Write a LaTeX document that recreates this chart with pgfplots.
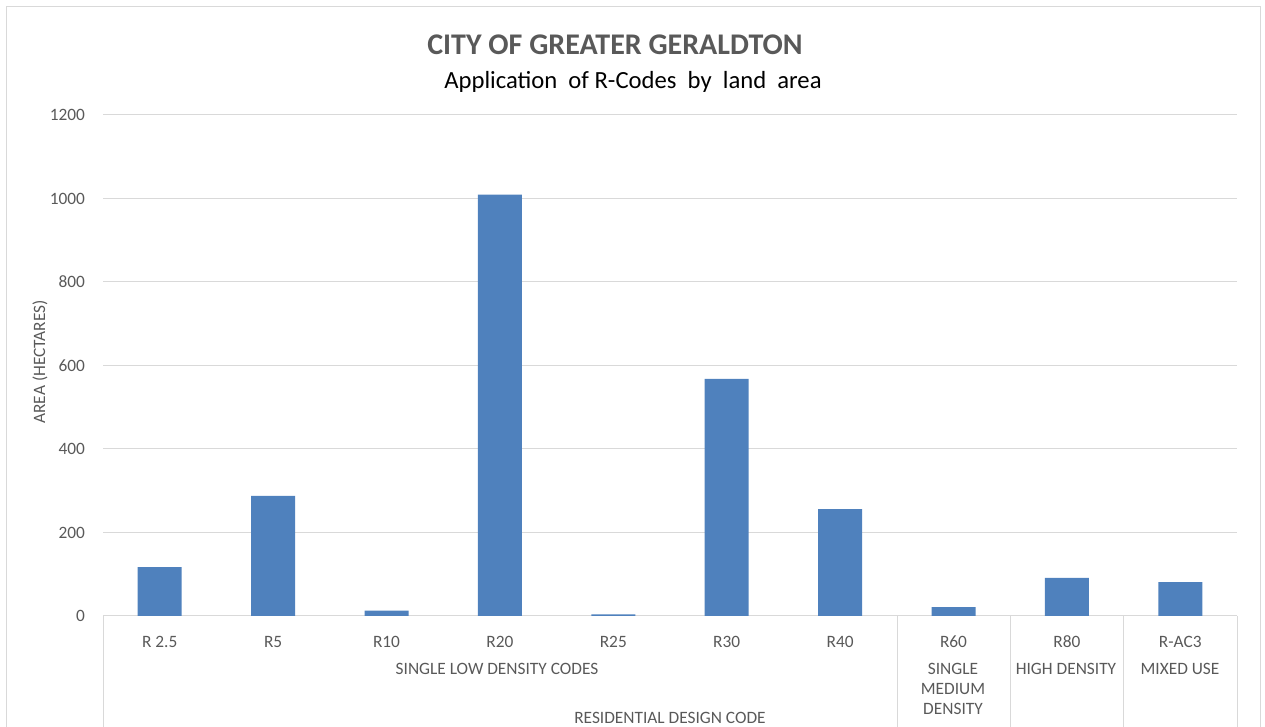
\documentclass[border=0pt]{standalone}
\usepackage{pgfplots}
\pgfplotsset{compat=1.18}
\usepackage{fontspec}
\setmainfont{Carlito}
\definecolor{barblue}{HTML}{4F81BD}
\definecolor{txt}{HTML}{595959}
\definecolor{gridc}{HTML}{D9D9D9}
\begin{document}
\begin{tikzpicture}
\path[use as bounding box] (0,0) rectangle (948.75pt,545.25pt);
\begin{axis}[at={(77.25pt,83.25pt)}, anchor=south west, scale only axis,
  width=850.5pt, height=375.75pt,
  xmin=-0.5, xmax=9.5, ymin=0, ymax=1200,
  ytick={0,200,...,1200}, xtick={0,...,9},
  xticklabels={R 2.5,R5,R10,R20,R25,R30,R40,R60,R80,R-AC3},
  axis x line*=bottom, axis y line*=left,
  y axis line style={draw=none}, x axis line style={gridc, line width=0.75pt},
  major tick length=0pt,
  ymajorgrids, grid style={gridc, line width=0.75pt},
  tick label style={txt, font=\fontsize{13}{15}\selectfont},
  /pgf/number format/assume math mode=true,
  /pgf/number format/set thousands separator={},
  xticklabel style={anchor=base, yshift=-23.5pt},
  yticklabel style={anchor=east, xshift=-10pt},
  clip=false, enlargelimits=false]
\addplot[ybar, fill=barblue, draw=none, bar width=33pt] coordinates {(0,117)(1,288)(2,13)(3,1009)(4,4)(5,568)(6,256)(7,21)(8,91)(9,81)};
\end{axis}
\begin{scope}[x=0.75pt,y=-0.75pt,shift={(0pt,545.25pt)}]
\draw[gridc, line width=0.75pt] (6,727) -- (6,7) -- (1260,7) -- (1260,727);
\node[txt, font=\bfseries\fontsize{22.5}{26}\selectfont] at (615,45) {CITY OF GREATER GERALDTON};
\node[black, font=\fontsize{18.5}{22}\selectfont] at (633,82) {Application\ \ of\ R-Codes\ \ by\ \ land\ \ area};
\node[txt, rotate=90, font=\fontsize{13}{15}\selectfont] at (40,362) {AREA (HECTARES)};
\foreach \x in {103,897,1010,1123,1237} \draw[gridc, line width=0.75pt] (\x,616) -- (\x,727);
\begin{scope}[every node/.style={txt, font=\fontsize{13}{15}\selectfont}]
\node at (497,669) {SINGLE LOW DENSITY CODES};
\node[align=center] at (953,689) {SINGLE\\MEDIUM\\DENSITY};
\node at (1066,669) {HIGH DENSITY};
\node at (1180,669) {MIXED USE};
\node at (670,718) {RESIDENTIAL DESIGN CODE};
\end{scope}
\end{scope}
\end{tikzpicture}
\end{document}
